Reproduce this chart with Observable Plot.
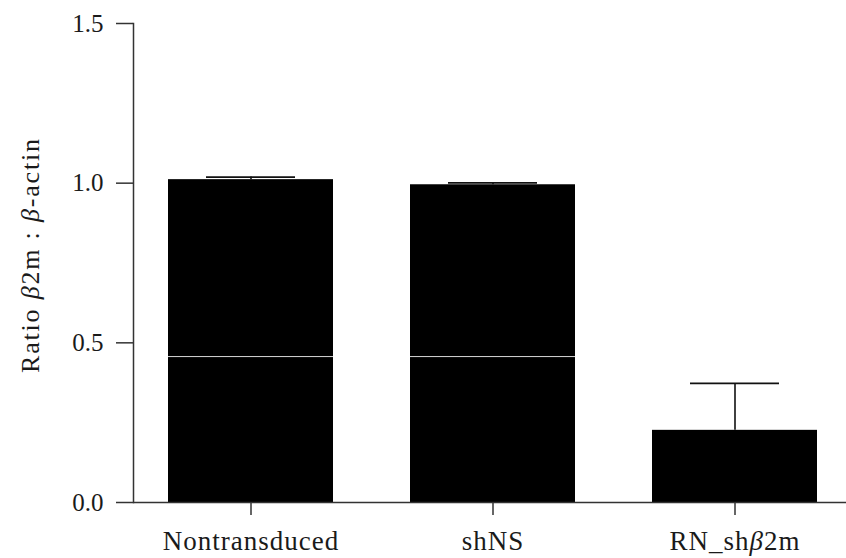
<!DOCTYPE html>
<html><head><meta charset="utf-8">
<script src="https://cdn.jsdelivr.net/npm/d3@7"></script>
<script src="https://cdn.jsdelivr.net/npm/@observablehq/plot@0.6"></script>
<style>
body{margin:0;background:#fff}
svg{display:block}
g[aria-label="x-axis tick label"] text{letter-spacing:1px}
</style>
</head><body><div id="chart"></div>
<script>
const groups = ["Nontransduced", "shNS", "RN_shβ2m"];
const means = [1.011, 0.995, 0.226];
const errUpper = [1.019, 1.001, 0.373];
const yTicks = [0, 0.5, 1.0, 1.5];
const yLabel = ["Ratio β2m : β-actin"];
const scanLine = [0.457];

const data = groups.map((g, i) => ({group: g, mean: means[i], upper: errUpper[i]}));
const font = "'Liberation Serif', 'Times New Roman', serif";

const chart = Plot.plot({
  width: 846, height: 558,
  marginLeft: 133, marginRight: 0, marginTop: 23, marginBottom: 56,
  style: {fontFamily: font, fontSize: "25px", color: "#1a1a1a", background: "#fff", overflow: "visible"},
  x: {domain: groups, paddingInner: 0.318, paddingOuter: 0.132, align: 0.547, label: null},
  y: {domain: [0, 1.5], label: null},
  marks: [
    Plot.ruleX(data, {x: "group", y1: "mean", y2: "upper", stroke: "#111", strokeWidth: 1.6}),
    Plot.tickY(data, {x: "group", y: "upper", stroke: "#111", strokeWidth: 1.6, inset: 38}),
    Plot.barY(data, {x: "group", y: "mean", fill: "#000"}),
    Plot.ruleY(scanLine, {stroke: "#fff", strokeOpacity: 0.85, strokeWidth: 1}),
    Plot.ruleY([0], {stroke: "#333", strokeWidth: 1.5}),
    Plot.frame({anchor: "left", stroke: "#333", strokeWidth: 1.5}),
    Plot.axisY({ticks: yTicks, tickFormat: d3.format(".1f"), tickSize: 17, tickPadding: 13, fontSize: 25, stroke: "#333", strokeWidth: 1.5, label: null}),
    Plot.axisX({tickSize: 13, tickPadding: 15, fontSize: 27, stroke: "#333", strokeWidth: 1.5, label: null}),
    Plot.text(yLabel, {text: d => d, frameAnchor: "left", rotate: -90, textAnchor: "start", lineAnchor: "bottom", dx: -95, dy: 110, fontSize: 26, fill: "#1a1a1a"})
  ]
});

d3.select(chart).selectAll("text").each(function() {
  const t = this.textContent;
  if (!t.includes("β") || this.querySelector("tspan")) return;
  const el = d3.select(this);
  el.text(null);
  t.split(/(β)/).filter(s => s.length).forEach(s => {
    const ts = el.append("tspan").text(s);
    if (s === "β") ts.attr("font-style", "italic");
  });
  if (t === yLabel[0]) el.attr("textLength", 234).attr("lengthAdjust", "spacing");
});

document.getElementById("chart").appendChild(chart);
</script>
</body></html>
